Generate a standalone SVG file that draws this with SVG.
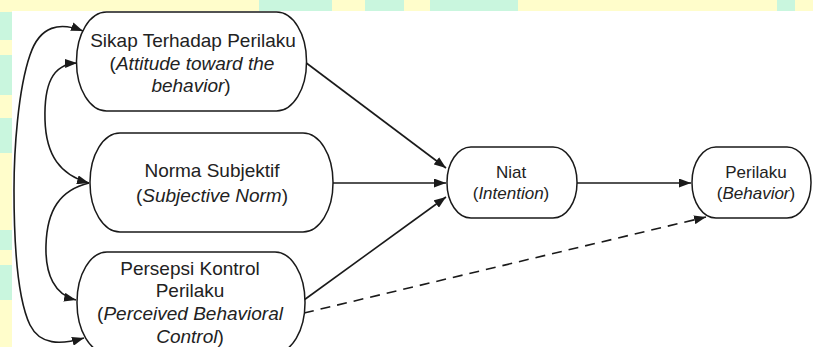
<svg xmlns="http://www.w3.org/2000/svg" width="813" height="347" viewBox="0 0 813 347">
<style>
.bg-y{fill:#FFFDCB}
.bg-g{fill:#C9F6DE}
.node{fill:#FFFFFF;stroke:#1a1a1a;stroke-width:1.5}
.t{font-family:"Liberation Sans",Arial,sans-serif;fill:#222;text-anchor:middle}
.big{font-size:19px}
.small{font-size:17px}
.i{font-style:italic}
.edge{fill:none;stroke:#1a1a1a;stroke-width:1.6}
.dash{stroke-dasharray:10 7}
</style>
<defs>
<marker id="arr" viewBox="0 0 12 9" refX="12" refY="4.5" markerWidth="12" markerHeight="9" markerUnits="userSpaceOnUse" orient="auto-start-reverse">
<path d="M0,0 L12,4.5 L0,9 z" fill="#1a1a1a"/>
</marker>
</defs>
<g id="watermark">
<rect x="0" y="0" width="813" height="347" class="bg-y"/>
<rect x="259" y="0" width="73" height="11" class="bg-g"/>
<rect x="365" y="0" width="39" height="11" class="bg-g"/>
<rect x="430" y="0" width="88" height="11" class="bg-g"/>
<rect x="777" y="0" width="18" height="11" class="bg-g"/>
<rect x="0" y="12" width="12" height="28" class="bg-g"/>
<rect x="0" y="55" width="12" height="40" class="bg-g"/>
<rect x="0" y="118" width="12" height="35" class="bg-g"/>
<rect x="0" y="230" width="12" height="20" class="bg-g"/>
<rect x="0" y="265" width="12" height="35" class="bg-g"/>
<rect x="12" y="11" width="801" height="336" fill="#FFFFFF"/>
</g>
<g id="connectors">
<path class="edge" d="M305,62 L446,168" marker-end="url(#arr)"/>
<path class="edge" d="M333,183 L446,183" marker-end="url(#arr)"/>
<path class="edge" d="M304,300 L446,197" marker-end="url(#arr)"/>
<path class="edge" d="M577,183 L691,183" marker-end="url(#arr)"/>
<path class="edge dash" d="M304,313 L706,217" marker-end="url(#arr)"/>
<path class="edge" d="M77,63 C52,64 44,85 45,120 C46,155 60,175 89,183" marker-start="url(#arr)" marker-end="url(#arr)"/>
<path class="edge" d="M89,183 C60,190 47,210 46,245 C45,275 55,295 76,300" marker-end="url(#arr)"/>
<path class="edge" d="M83,31 C60,22 40,25 30,55 C18,90 14,150 14,190 C14,250 18,300 30,325 C40,345 60,345 84,338" marker-start="url(#arr)" marker-end="url(#arr)"/>
</g>
<g id="sikap">
<rect class="node" x="76.5" y="12" width="230" height="99" rx="30" ry="49"/>
<text class="t big" x="193" y="47">Sikap Terhadap Perilaku</text>
<text class="t big" x="192" y="70">(<tspan class="i">Attitude toward the</tspan></text>
<text class="t big" x="191" y="92"><tspan class="i">behavior</tspan>)</text>
</g>
<g id="norma">
<rect class="node" x="90" y="133" width="243" height="99" rx="30" ry="49"/>
<text class="t big" x="212" y="177">Norma Subjektif</text>
<text class="t big" x="212" y="202">(<tspan class="i">Subjective Norm</tspan>)</text>
</g>
<g id="persepsi">
<rect class="node" x="77" y="252" width="228" height="101" rx="30" ry="50"/>
<text class="t big" x="190" y="275">Persepsi Kontrol</text>
<text class="t big" x="190" y="297">Perilaku</text>
<text class="t big" x="190" y="320">(<tspan class="i">Perceived Behavioral</tspan></text>
<text class="t big" x="190" y="343"><tspan class="i">Control</tspan>)</text>
</g>
<g id="niat">
<rect class="node" x="447" y="147" width="130" height="71" rx="24" ry="35"/>
<text class="t small" x="511" y="178">Niat</text>
<text class="t small" x="511" y="199">(<tspan class="i">Intention</tspan>)</text>
</g>
<g id="perilaku">
<rect class="node" x="692" y="147" width="119" height="71" rx="24" ry="35"/>
<text class="t small" x="756" y="178">Perilaku</text>
<text class="t small" x="756" y="199">(<tspan class="i">Behavior</tspan>)</text>
</g>
</svg>
